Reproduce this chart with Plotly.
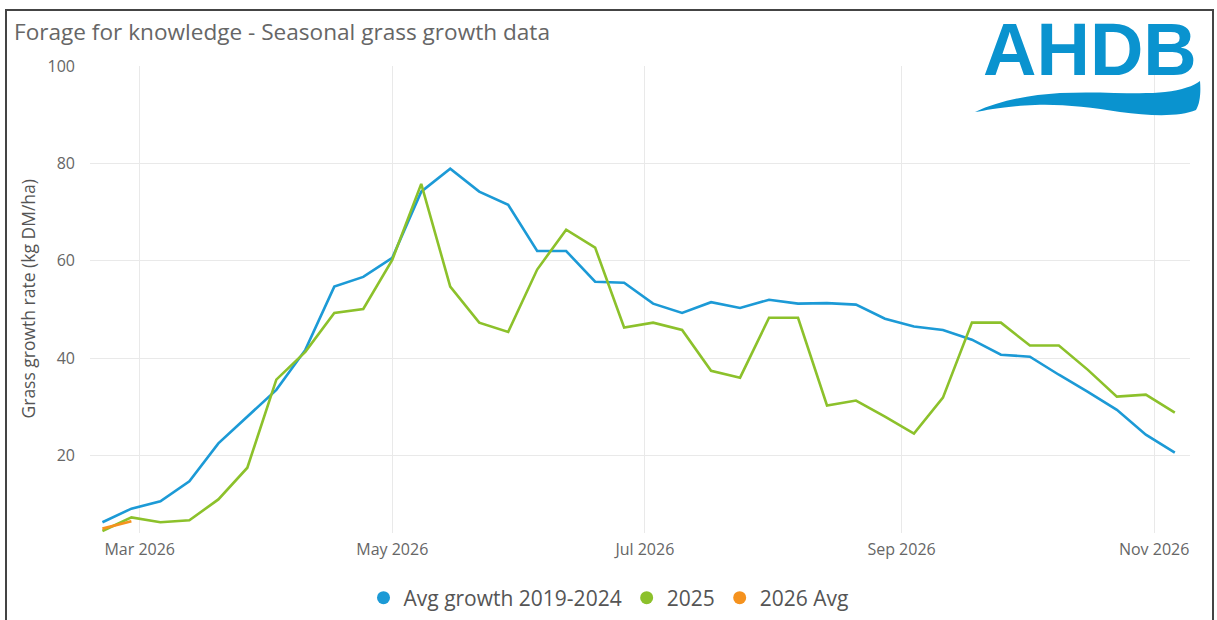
import pandas as pd
import plotly.graph_objects as go

# ---------------- data ----------------
start_date = "2026-02-20"
n_weeks = 38
dates = pd.date_range(start_date, periods=n_weeks, freq="7D")

avg_2019_2024 = [6.3, 9.1, 10.6, 14.7, 22.5, 28.0, 33.5, 41.7, 54.7, 56.7, 60.6, 74.2, 78.9,
                 74.2, 71.5, 62.0, 62.0, 55.7, 55.5, 51.2, 49.3, 51.5, 50.3, 52.0, 51.2, 51.3,
                 51.0, 48.1, 46.5, 45.8, 43.8, 40.7, 40.3, 36.6, 33.1, 29.4, 24.3, 20.6]
growth_2025 = [4.5, 7.3, 6.3, 6.7, 11.0, 17.5, 35.6, 41.3, 49.3, 50.1, 60.2, 75.8, 54.7,
               47.3, 45.4, 58.2, 66.4, 62.7, 46.3, 47.3, 45.8, 37.4, 36.0, 48.3, 48.3, 30.3,
               31.3, 28.0, 24.5, 31.9, 47.3, 47.3, 42.6, 42.6, 37.6, 32.1, 32.5, 28.8]
avg_2026 = [5.0, 6.5]

series_names = ["Avg growth 2019-2024", "2025", "2026 Avg"]
series_colors = ["#1C9AD6", "#8CC12B", "#F5921E"]

title_text = "Forage for knowledge - Seasonal grass growth data"
y_title = "Grass growth rate (kg DM/ha)"
y_ticks = [20, 40, 60, 80, 100]

# ---------------- layout geometry ----------------
W, H = 1217, 620
L, R, T, B = 90, 1190, 66, 533  # plot area in pixels


def px(x, y):
    return (x - L) / (R - L), (B - y) / (B - T)


font_family = "Open Sans, Noto Sans, DejaVu Sans, sans-serif"

fig = go.Figure()
for name, vals, col in zip(series_names, [avg_2019_2024, growth_2025, avg_2026], series_colors):
    fig.add_trace(go.Scatter(x=dates[:len(vals)], y=vals, mode="lines", name=name,
                             line=dict(color=col, width=2.6), showlegend=False,
                             hoverinfo="x+y+name"))
# legend entries (circle markers)
for name, col in zip(series_names, series_colors):
    fig.add_trace(go.Scatter(x=[None], y=[None], mode="markers", name=name,
                             marker=dict(color=col, size=13, symbol="circle")))

# wave for logo (pixel coordinates converted to paper)
wave_pts = [
    ("M", [(975, 112)]),
    ("C", [(1000, 100), (1030, 95), (1060, 93)]),
    ("C", [(1100, 91), (1140, 95), (1165, 92)]),
    ("C", [(1182, 90), (1194, 86), (1200, 81)]),
    ("C", [(1201, 92), (1200, 104), (1196, 110)]),
    ("C", [(1180, 117), (1150, 116), (1120, 112)]),
    ("C", [(1090, 107), (1060, 104), (1035, 105)]),
    ("C", [(1005, 106), (988, 110), (975, 112)]),
]
path = ""
for cmd, pts in wave_pts:
    path += cmd + " " + " ".join("%.5f,%.5f" % px(*p) for p in pts) + " "
path += "Z"

bx0, by0 = px(6, 10)
bx1, by1 = px(1213, 650)

fig.update_layout(
    width=W, height=H,
    margin=dict(l=L, r=W - R, t=T, b=H - B, autoexpand=False),
    paper_bgcolor="white", plot_bgcolor="white",
    font=dict(family=font_family, color="#666666"),
    title=dict(text=title_text, x=14 / W, xref="container", xanchor="left",
               y=1 - 32 / H, yref="container", yanchor="middle",
               font=dict(size=22.6, color="#666666")),
    xaxis=dict(type="date", range=["2026-02-17", "2026-11-09 16:00"],
               tick0="2026-03-01", dtick="M2", tickformat="%b %Y",
               showgrid=True, gridcolor="#E9E9E9", gridwidth=1.3,
               showline=False, zeroline=False, ticks="", automargin=False,
               tickfont=dict(size=16, color="#666666"), ticklabelstandoff=5),
    yaxis=dict(range=[4.1, 100], tickvals=y_ticks,
               showgrid=True, gridcolor="#E9E9E9", gridwidth=1.3,
               showline=False, zeroline=False, ticks="", automargin=False,
               tickfont=dict(size=16, color="#666666"), ticklabelstandoff=14),
    legend=dict(orientation="h", xref="container", x=0.5, xanchor="center",
                yref="container", y=1 - 598 / H, yanchor="middle",
                font=dict(size=21, color="#555555"), itemwidth=30,
                bgcolor="rgba(0,0,0,0)"),
    shapes=[
        dict(type="path", path=path, xref="paper", yref="paper",
             fillcolor="#0A93CF", line=dict(width=0), layer="above"),
        dict(type="rect", xref="paper", yref="paper", x0=bx0, y0=by0, x1=bx1, y1=by1,
             line=dict(color="#444444", width=2), fillcolor="rgba(0,0,0,0)"),
    ],
    annotations=[
        dict(text="<b>AHDB</b>", xref="paper", yref="paper",
             x=px(1090, 54)[0], y=px(1090, 50)[1], xanchor="center", yanchor="middle",
             showarrow=False,
             font=dict(family="Liberation Sans, Arial, sans-serif", size=74, color="#0A93CF")),
        dict(text=y_title, xref="paper", yref="paper", x=px(27, 0)[0], y=0.5,
             xanchor="center", yanchor="middle", textangle=-90, showarrow=False,
             font=dict(size=17.5, color="#555555")),
    ],
)

fig.write_html(
    "out.html",
    config={"displayModeBar": False},
    post_script="document.body.style.margin='0';"
                "document.documentElement.style.overflow='hidden';",
)
